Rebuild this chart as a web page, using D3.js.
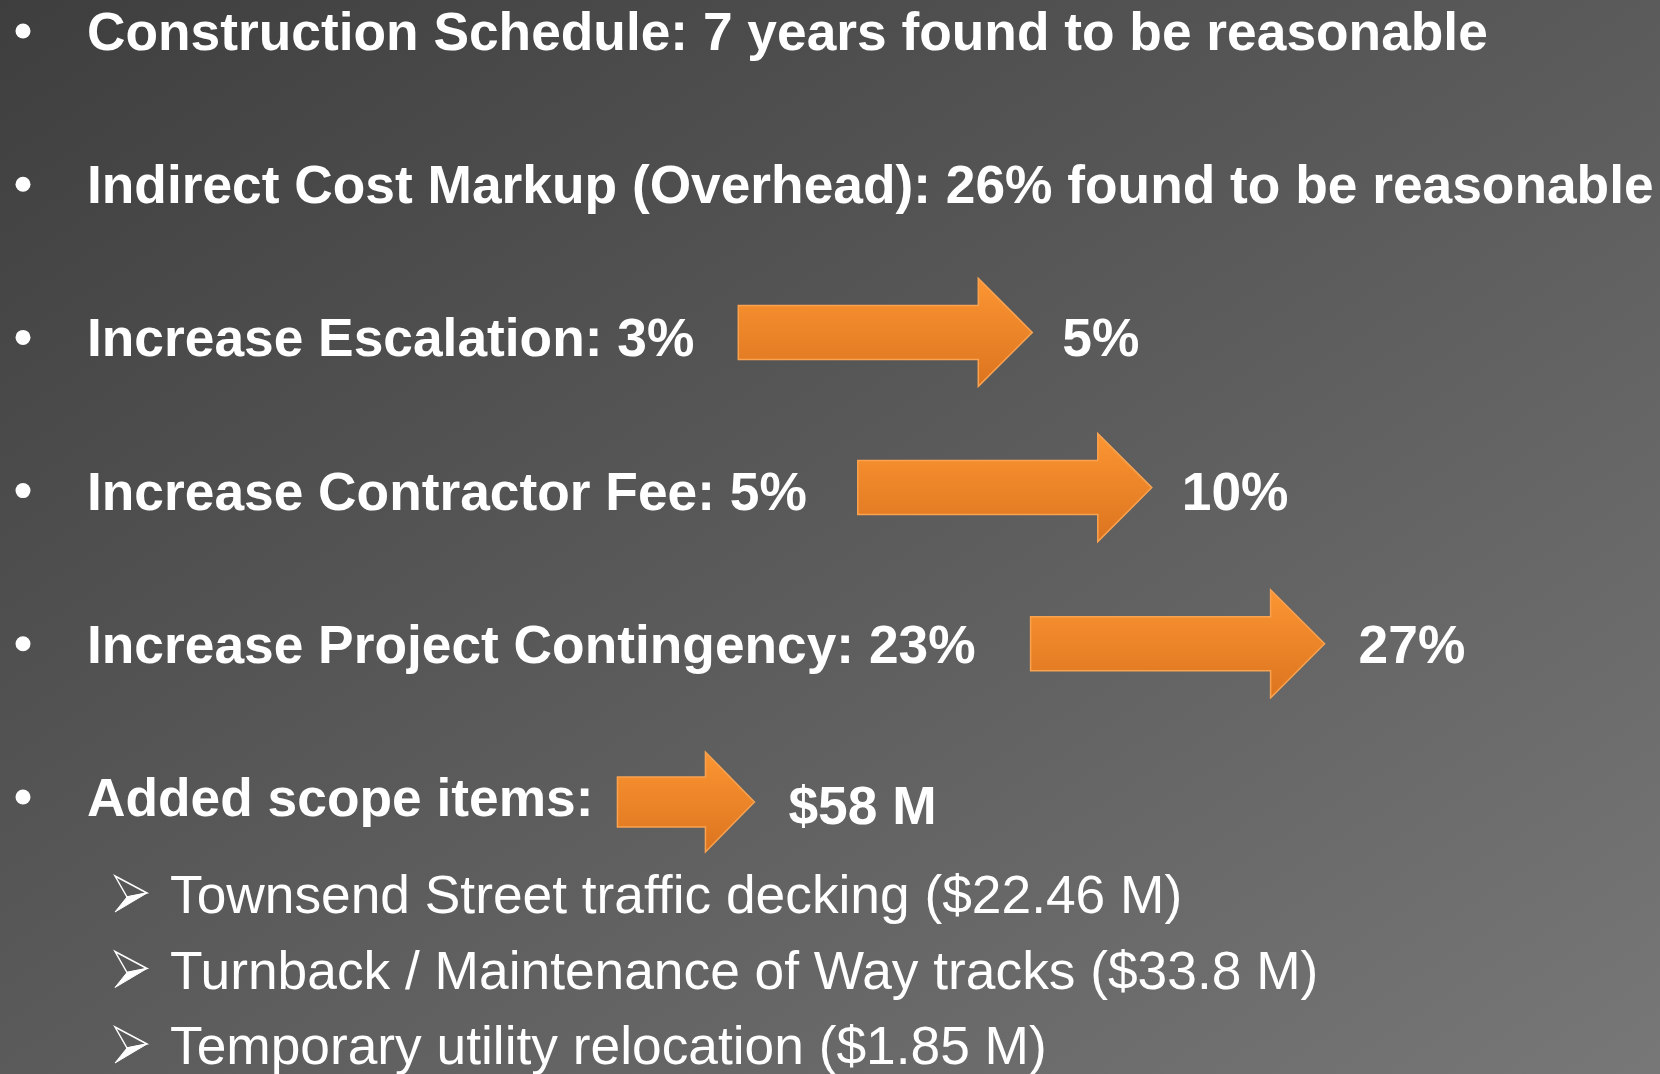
<!DOCTYPE html>
<html>
<head>
<meta charset="utf-8">
<script src="https://cdn.jsdelivr.net/npm/d3@7"></script>
<style>
  html, body { margin: 0; padding: 0; background: #555; }
  svg { display: block; }
</style>
</head>
<body>
<div class="slide"></div>
<script>
// slide content
const bullets = [
  "Construction Schedule: 7 years found to be reasonable",
  "Indirect Cost Markup (Overhead): 26% found to be reasonable",
  "Increase Escalation: 3%",
  "Increase Contractor Fee: 5%",
  "Increase Project Contingency: 23%",
  "Added scope items:"
];
const changeRows = [2, 3, 4, 5];
const changeTo = ["5%", "10%", "27%", "$58 M"];
const subItems = [
  "Townsend Street traffic decking ($22.46 M)",
  "Turnback / Maintenance of Way tracks ($33.8 M)",
  "Temporary utility relocation ($1.85 M)"
];

const width = 1660, height = 1074;
const font = "'Liberation Sans', Arial, sans-serif";
const fontSize = "53.3px";

const svg = d3.select(".slide")
  .append("svg")
  .attr("width", width)
  .attr("height", height);

const defs = svg.append("defs");

const bg = defs.append("linearGradient")
  .attr("id", "bg")
  .attr("x1", 0).attr("y1", 0)
  .attr("x2", 1).attr("y2", 1);
bg.append("stop").attr("offset", "0%").attr("stop-color", "#3e3e3e");
bg.append("stop").attr("offset", "100%").attr("stop-color", "#777777");

const orange = defs.append("linearGradient")
  .attr("id", "orange")
  .attr("x1", 0).attr("y1", 0)
  .attr("x2", 0).attr("y2", 1);
orange.append("stop").attr("offset", "0%").attr("stop-color", "#fc9532");
orange.append("stop").attr("offset", "100%").attr("stop-color", "#dc741f");

svg.append("rect")
  .attr("width", width)
  .attr("height", height)
  .attr("fill", "url(#bg)");

const yRow = d3.scaleLinear().domain([0, bullets.length - 1]).range([50, 816]);
const ySub = d3.scaleLinear().domain([0, subItems.length - 1]).range([913, 1064]);

// main bullets
const rows = svg.selectAll("g.row")
  .data(bullets)
  .join("g")
  .attr("class", "row")
  .attr("transform", (d, i) => `translate(0, ${yRow(i)})`);

rows.append("circle")
  .attr("cx", 23)
  .attr("cy", -19)
  .attr("r", 7.5)
  .attr("fill", "#fff");

rows.append("text")
  .attr("class", "label")
  .text(d => d)
  .attr("x", 87)
  .attr("fill", "#fff")
  .style("font-family", font)
  .style("font-weight", "bold")
  .style("font-size", fontSize);

// arrows: gap after text, arrow size, vertical shift of the arrow
const arrowGap = [44, 51, 55, 24];
const arrowLen = [294, 294, 294, 137];
const arrowShaft = [54, 54, 54, 50];
const arrowHead = [108, 108, 108, 100];
const arrowTip = [54, 54, 54, 49];
const arrowShift = [0, 2, 5, 10];
const valueGap = [30, 30, 34, 34];
const valueShift = [0, 0, 0, 8];

const arrowPath = (x0, cy, len, sh, hh, hl) => {
  const p = d3.path();
  const xh = x0 + len - hl;
  p.moveTo(x0, cy - sh / 2);
  p.lineTo(xh, cy - sh / 2);
  p.lineTo(xh, cy - hh / 2);
  p.lineTo(x0 + len, cy);
  p.lineTo(xh, cy + hh / 2);
  p.lineTo(xh, cy + sh / 2);
  p.lineTo(x0, cy + sh / 2);
  p.closePath();
  return p.toString();
};

const labels = svg.selectAll("text.label").nodes();

changeRows.forEach((r, i) => {
  const textEnd = 87 + labels[r].getComputedTextLength();
  const x0 = textEnd + arrowGap[i];
  const base = yRow(r);
  const cy = base - 24 + arrowShift[i];

  svg.append("path")
    .attr("d", arrowPath(x0, cy, arrowLen[i], arrowShaft[i], arrowHead[i], arrowTip[i]))
    .attr("fill", "url(#orange)")
    .attr("stroke", "#f9a24f")
    .attr("stroke-width", 1.5);

  svg.append("text")
    .text(changeTo[i])
    .attr("x", x0 + arrowLen[i] + valueGap[i])
    .attr("y", base + valueShift[i])
    .attr("fill", "#fff")
    .style("font-family", font)
    .style("font-weight", "bold")
    .style("font-size", fontSize);
});

// sub bullets
const subs = svg.selectAll("g.sub")
  .data(subItems)
  .join("g")
  .attr("class", "sub")
  .attr("transform", (d, i) => `translate(0, ${ySub(i)})`);

// arrowhead bullet: upper half outlined, lower half filled
subs.append("path")
  .attr("d", "M115,-37 L147,-20 L127,-16 Z")
  .attr("fill", "none")
  .attr("stroke", "#fff")
  .attr("stroke-width", 1.5)
  .attr("stroke-linejoin", "miter");

subs.append("path")
  .attr("d", "M127,-16 L147,-20 L115,-1 Z")
  .attr("fill", "#fff")
  .attr("stroke", "#fff")
  .attr("stroke-width", 1);

subs.append("text")
  .text(d => d)
  .attr("x", 170)
  .attr("fill", "#fff")
  .style("font-family", font)
  .style("font-size", fontSize);
</script>
</body>
</html>
